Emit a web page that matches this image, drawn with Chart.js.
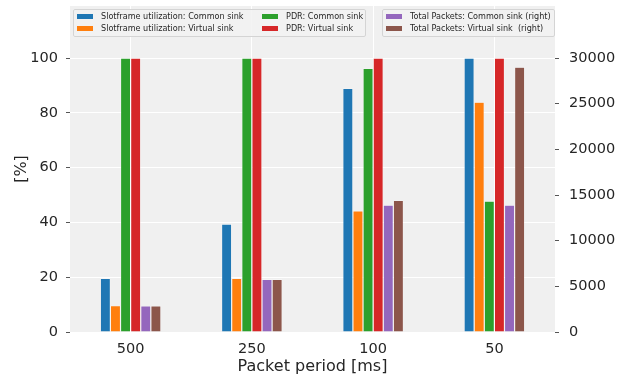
<!DOCTYPE html>
<html>
<head>
<meta charset="utf-8">
<script src="https://cdn.jsdelivr.net/npm/chart.js@4"></script>
<style>
html, body { margin: 0; padding: 0; background: #fff; }
#cadre { position: relative; width: 619px; height: 376px; }
.boite { position: absolute; box-sizing: border-box; border: 1px solid #d4d4d4; border-radius: 2px; background: rgba(242,242,242,0.85); }
.carre { position: absolute; width: 16px; height: 5px; }
.lib { position: absolute; font-family: "DejaVu Sans"; font-size: 8.1px; color: #262626; white-space: pre; line-height: 10px; }
</style>
</head>
<body>
<div id="cadre">
<canvas id="myChart" width="619" height="376"></canvas>
</div>
<script>
// Données
const periodes = ['500', '250', '100', '50'];
const slotCommon = [19.6, 39.4, 88.9, 100];
const slotVirtual = [9.6, 19.6, 44.2, 83.9];
const pdrCommon = [100, 100, 96.2, 47.8];
const pdrVirtual = [100, 100, 100, 100];
const paquetsCommon = [2850, 5770, 13900, 13900];
const paquetsVirtual = [2850, 5770, 14400, 29000];
const ticksGauche = [0, 20, 40, 60, 80, 100];
const ticksDroite = [0, 5000, 10000, 15000, 20000, 25000, 30000];

const couleurs = ['#1f77b4', '#ff7f0e', '#2ca02c', '#d62728', '#9467bd', '#8c564b'];
const noms = [
    'Slotframe utilization: Common sink',
    'Slotframe utilization: Virtual sink',
    'PDR: Common sink',
    'PDR: Virtual sink',
    'Total Packets: Common sink (right)',
    'Total Packets: Virtual sink  (right)'
];
const series = [slotCommon, slotVirtual, pdrCommon, pdrVirtual, paquetsCommon, paquetsVirtual];
const texte = '#262626';
const police = 'DejaVu Sans';

// fond gris de la zone du graphe
const fondGris = {
    id: 'fondGris',
    beforeDraw(chart) {
        const a = chart.chartArea;
        const ctx = chart.ctx;
        ctx.save();
        ctx.fillStyle = '#f0f0f0';
        ctx.fillRect(a.left, a.top, a.right - a.left, a.bottom - a.top);
        ctx.restore();
    }
};

// les deux légendes en HTML par dessus le canvas
function legendes() {
    const cadre = document.getElementById('cadre');
    const boites = [
        { x: 73, y: 9, w: 293, h: 28, items: [[0, 0, 0], [1, 0, 1], [2, 1, 0], [3, 1, 1]], cols: [77, 262] },
        { x: 382, y: 9, w: 173, h: 28, items: [[4, 0, 0], [5, 0, 1]], cols: [386] }
    ];
    for (const b of boites) {
        const d = document.createElement('div');
        d.className = 'boite';
        d.style.left = b.x + 'px'; d.style.top = b.y + 'px';
        d.style.width = b.w + 'px'; d.style.height = b.h + 'px';
        cadre.appendChild(d);
        for (const [i, c, r] of b.items) {
            const x = b.cols[c];
            const y = r == 0 ? 16 : 28.3;
            const s = document.createElement('div');
            s.className = 'carre';
            s.style.background = couleurs[i];
            s.style.left = x + 'px'; s.style.top = (y - 2.5) + 'px';
            cadre.appendChild(s);
            const t = document.createElement('div');
            t.className = 'lib';
            t.textContent = noms[i];
            t.style.left = (x + 24) + 'px'; t.style.top = (y - 5) + 'px';
            cadre.appendChild(t);
        }
    }
}

const datasets = series.map((d, i) => ({
    label: noms[i],
    data: d,
    backgroundColor: couleurs[i],
    borderColor: 'rgba(255,255,255,0.6)',
    borderWidth: 0.6,
    yAxisID: i < 4 ? 'y' : 'y2'
}));

const ctx = document.getElementById('myChart');
new Chart(ctx, {
    type: 'bar',
    data: { labels: periodes, datasets: datasets },
    options: {
        responsive: false,
        animation: false,
        devicePixelRatio: 1,
        layout: { padding: { top: 6, left: 0, right: 0, bottom: 0 } },
        datasets: { bar: { categoryPercentage: 0.5, barPercentage: 1 } },
        plugins: { legend: { display: false }, tooltip: { enabled: false } },
        scales: {
            x: {
                offset: true,
                grid: { offset: false, color: '#ffffff', lineWidth: 1, drawTicks: false },
                border: { display: false },
                ticks: { color: texte, font: { family: police, size: 14.5 }, padding: 9 },
                title: { display: true, text: 'Packet period [ms]', color: texte, font: { family: police, size: 16 }, padding: { top: 0, bottom: 0 } },
                afterFit(s) { s.height = 44; s.paddingLeft = 0; s.paddingRight = 0; }
            },
            y: {
                position: 'left',
                min: 0,
                max: 119,
                grid: { color: '#ffffff', lineWidth: 1, tickLength: 4, tickColor: '#555' },
                border: { display: false },
                ticks: { color: texte, font: { family: police, size: 14.5 }, padding: 8 },
                afterBuildTicks(s) { s.ticks = ticksGauche.map(v => ({ value: v })); },
                title: { display: true, text: '[%]', color: texte, font: { family: police, size: 16 }, padding: { top: 12, bottom: 0 } },
                afterFit(s) { s.width = 70; s.paddingTop = 0; s.paddingBottom = 0; }
            },
            y2: {
                position: 'right',
                min: 0,
                max: 35700,
                grid: { drawOnChartArea: false, tickLength: 4, tickColor: '#555' },
                border: { display: false },
                ticks: { color: texte, font: { family: police, size: 14.5 }, padding: 10, callback: v => String(v) },
                afterBuildTicks(s) { s.ticks = ticksDroite.map(v => ({ value: v })); },
                afterFit(s) { s.width = 64; s.paddingTop = 0; s.paddingBottom = 0; }
            }
        }
    },
    plugins: [fondGris]
});
legendes();
</script>
</body>
</html>
